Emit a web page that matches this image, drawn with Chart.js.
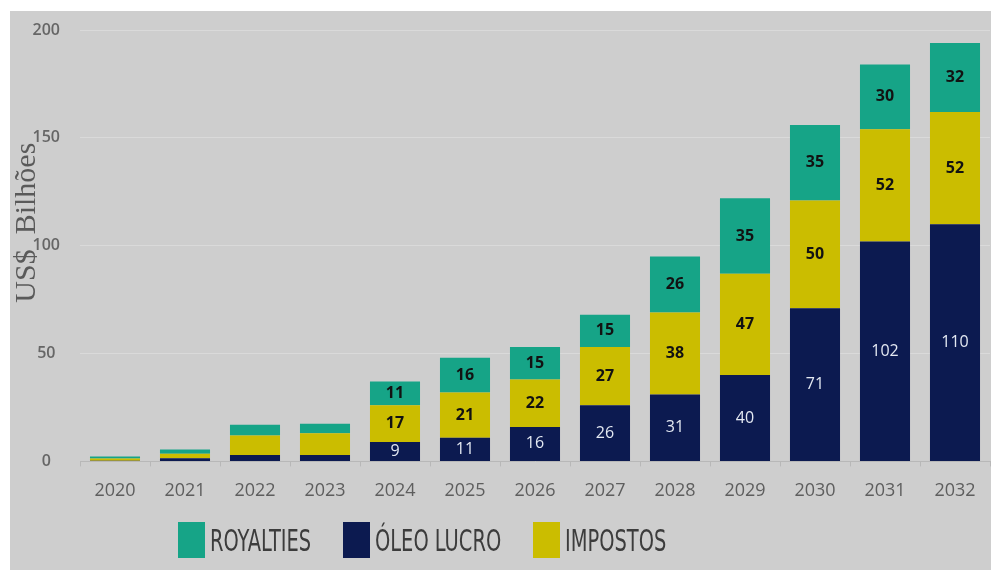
<!DOCTYPE html>
<html lang="pt">
<head>
<meta charset="utf-8">
<title>Receitas do governo</title>
<script src="https://cdn.jsdelivr.net/npm/chart.js@4.4.1/dist/chart.umd.min.js"></script>
<style>
  html, body { margin: 0; padding: 0; background: #fff; }
  body { width: 991px; height: 571px; position: relative; overflow: hidden; }
  #panel { position: absolute; left: 10px; top: 11px; width: 981px; height: 559px; background: #cecece; }
  #chart-wrap { position: absolute; left: 0; top: 0; width: 981px; height: 514px; }
  #legend { position: absolute; left: 168px; top: 511px; height: 36px; display: flex; align-items: center; }
  .lg-item { display: flex; align-items: center; height: 36px; margin-right: 32px; }
  .lg-box { width: 27px; height: 36px; margin-right: 5px; flex-shrink: 0; }
  .lg-clip { display: inline-block; overflow: visible; white-space: nowrap; }
  .lg-text {
    display: inline-block;
    font-family: 'Liberation Sans Narrow', 'DejaVu Sans Condensed', sans-serif;
    font-size: 30px; color: #3c3c3c; white-space: nowrap;
    transform-origin: 0 50%;
  }
</style>
</head>
<body>
<div id="panel">
  <div id="chart-wrap"><canvas id="receitas"></canvas></div>
  <div id="legend"></div>
</div>

<script>
// ── Data (US$ bilhões) ───────────────────────────────────────
const years     = ['2020','2021','2022','2023','2024','2025','2026','2027','2028','2029','2030','2031','2032'];
const oleoLucro = [0.3, 1.5, 3, 3, 9, 11, 16, 26, 31, 40, 71, 102, 110];
const impostos  = [1, 2, 9, 10, 17, 21, 22, 27, 38, 47, 50, 52, 52];
const royalties = [1, 2, 5, 4.5, 11, 16, 15, 15, 26, 35, 35, 30, 32];
const yTicks    = [0, 50, 100, 150, 200];

const TEAL   = '#16a487';
const NAVY   = '#0c1a50';
const YELLOW = '#cbbd00';

// values are printed on the bars from this year on
const firstLabelledYear = '2024';

// legend order differs from stacking order
const legendItems = [
  { name: 'ROYALTIES',  color: TEAL },
  { name: 'ÓLEO LUCRO', color: NAVY },
  { name: 'IMPOSTOS',   color: YELLOW },
];

// ── Value labels inside each segment ─────────────────────────
const segmentLabels = {
  id: 'segmentLabels',
  afterDatasetsDraw(chart) {
    const ctx  = chart.ctx;
    const from = years.indexOf(firstLabelledYear);
    chart.data.datasets.forEach((ds, di) => {
      const meta = chart.getDatasetMeta(di);
      const dark = ds.backgroundColor === NAVY;
      meta.data.forEach((bar, i) => {
        if (i < from) return;
        ctx.save();
        ctx.font = (dark ? '400 ' : '700 ') + '16px "Open Sans", sans-serif';
        ctx.fillStyle = dark ? '#e4e9f2' : '#121212';
        ctx.textAlign = 'center';
        ctx.textBaseline = 'middle';
        ctx.fillText(String(ds.data[i]), bar.x, (bar.y + bar.base) / 2);
        ctx.restore();
      });
    });
  }
};

// ── Rotated y title, a bit above the middle of the plot ──────
const yTitle = {
  id: 'yTitle',
  afterDraw(chart) {
    const { ctx, chartArea } = chart;
    const cy = (chartArea.top + chartArea.bottom) / 2 - 23;
    ctx.save();
    ctx.translate(17, cy);
    ctx.rotate(-Math.PI / 2);
    ctx.font = '30px "Liberation Serif", serif';
    ctx.fillStyle = '#5a5a5a';
    ctx.textAlign = 'center';
    ctx.textBaseline = 'middle';
    ctx.fillText('US$  Bilhões', 0, 0);
    ctx.restore();
  }
};

const barStyle = { barPercentage: 0.715, categoryPercentage: 1, borderWidth: 0 };

new Chart(document.getElementById('receitas'), {
  type: 'bar',
  data: {
    labels: years,
    datasets: [
      { label: 'ÓLEO LUCRO', data: oleoLucro, backgroundColor: NAVY,   ...barStyle },
      { label: 'IMPOSTOS',   data: impostos,  backgroundColor: YELLOW, ...barStyle },
      { label: 'ROYALTIES',  data: royalties, backgroundColor: TEAL,   ...barStyle },
    ]
  },
  options: {
    responsive: true,
    maintainAspectRatio: false,
    animation: false,
    layout: { padding: { top: 19, right: 1, bottom: 9, left: 0 } },
    plugins: {
      legend:  { display: false },
      tooltip: { enabled: false },
    },
    scales: {
      x: {
        stacked: true,
        grid: { offset: true, drawOnChartArea: false, drawTicks: true, tickLength: 5, color: '#b8b8b8' },
        border: { color: '#b8b8b8' },
        ticks: { color: '#5e5e5e', padding: 14, font: { family: 'Open Sans', size: 18 } },
      },
      y: {
        stacked: true,
        min: 0,
        max: 200,
        // fixed gutter; tick padding shouldn't push the plot down
        afterFit: s => { s.width = 70; s.paddingTop = 0; s.paddingBottom = 0; },
        afterBuildTicks: s => { s.ticks = yTicks.map(v => ({ value: v })); },
        grid: { color: '#dadada', drawTicks: false },
        border: { display: false },
        ticks: { color: '#666', padding: 20, crossAlign: 'center', font: { family: 'Open Sans', size: 16, weight: '600' } },
      }
    }
  },
  plugins: [segmentLabels, yTitle]
});

// ── Legend (condensed caps) ──────────────────────────────────
const legend = document.getElementById('legend');
legendItems.forEach(it => {
  const item = document.createElement('div');
  item.className = 'lg-item';
  item.innerHTML = `<span class="lg-box" style="background:${it.color}"></span>` +
                   `<span class="lg-clip"><span class="lg-text">${it.name}</span></span>`;
  legend.appendChild(item);
});
legend.querySelectorAll('.lg-clip').forEach(clip => {
  const txt = clip.firstChild;
  const w = txt.offsetWidth;
  txt.style.transform = 'scaleX(0.72)';
  clip.style.width = Math.round(w * 0.72) + 'px';
});
</script>
</body>
</html>
